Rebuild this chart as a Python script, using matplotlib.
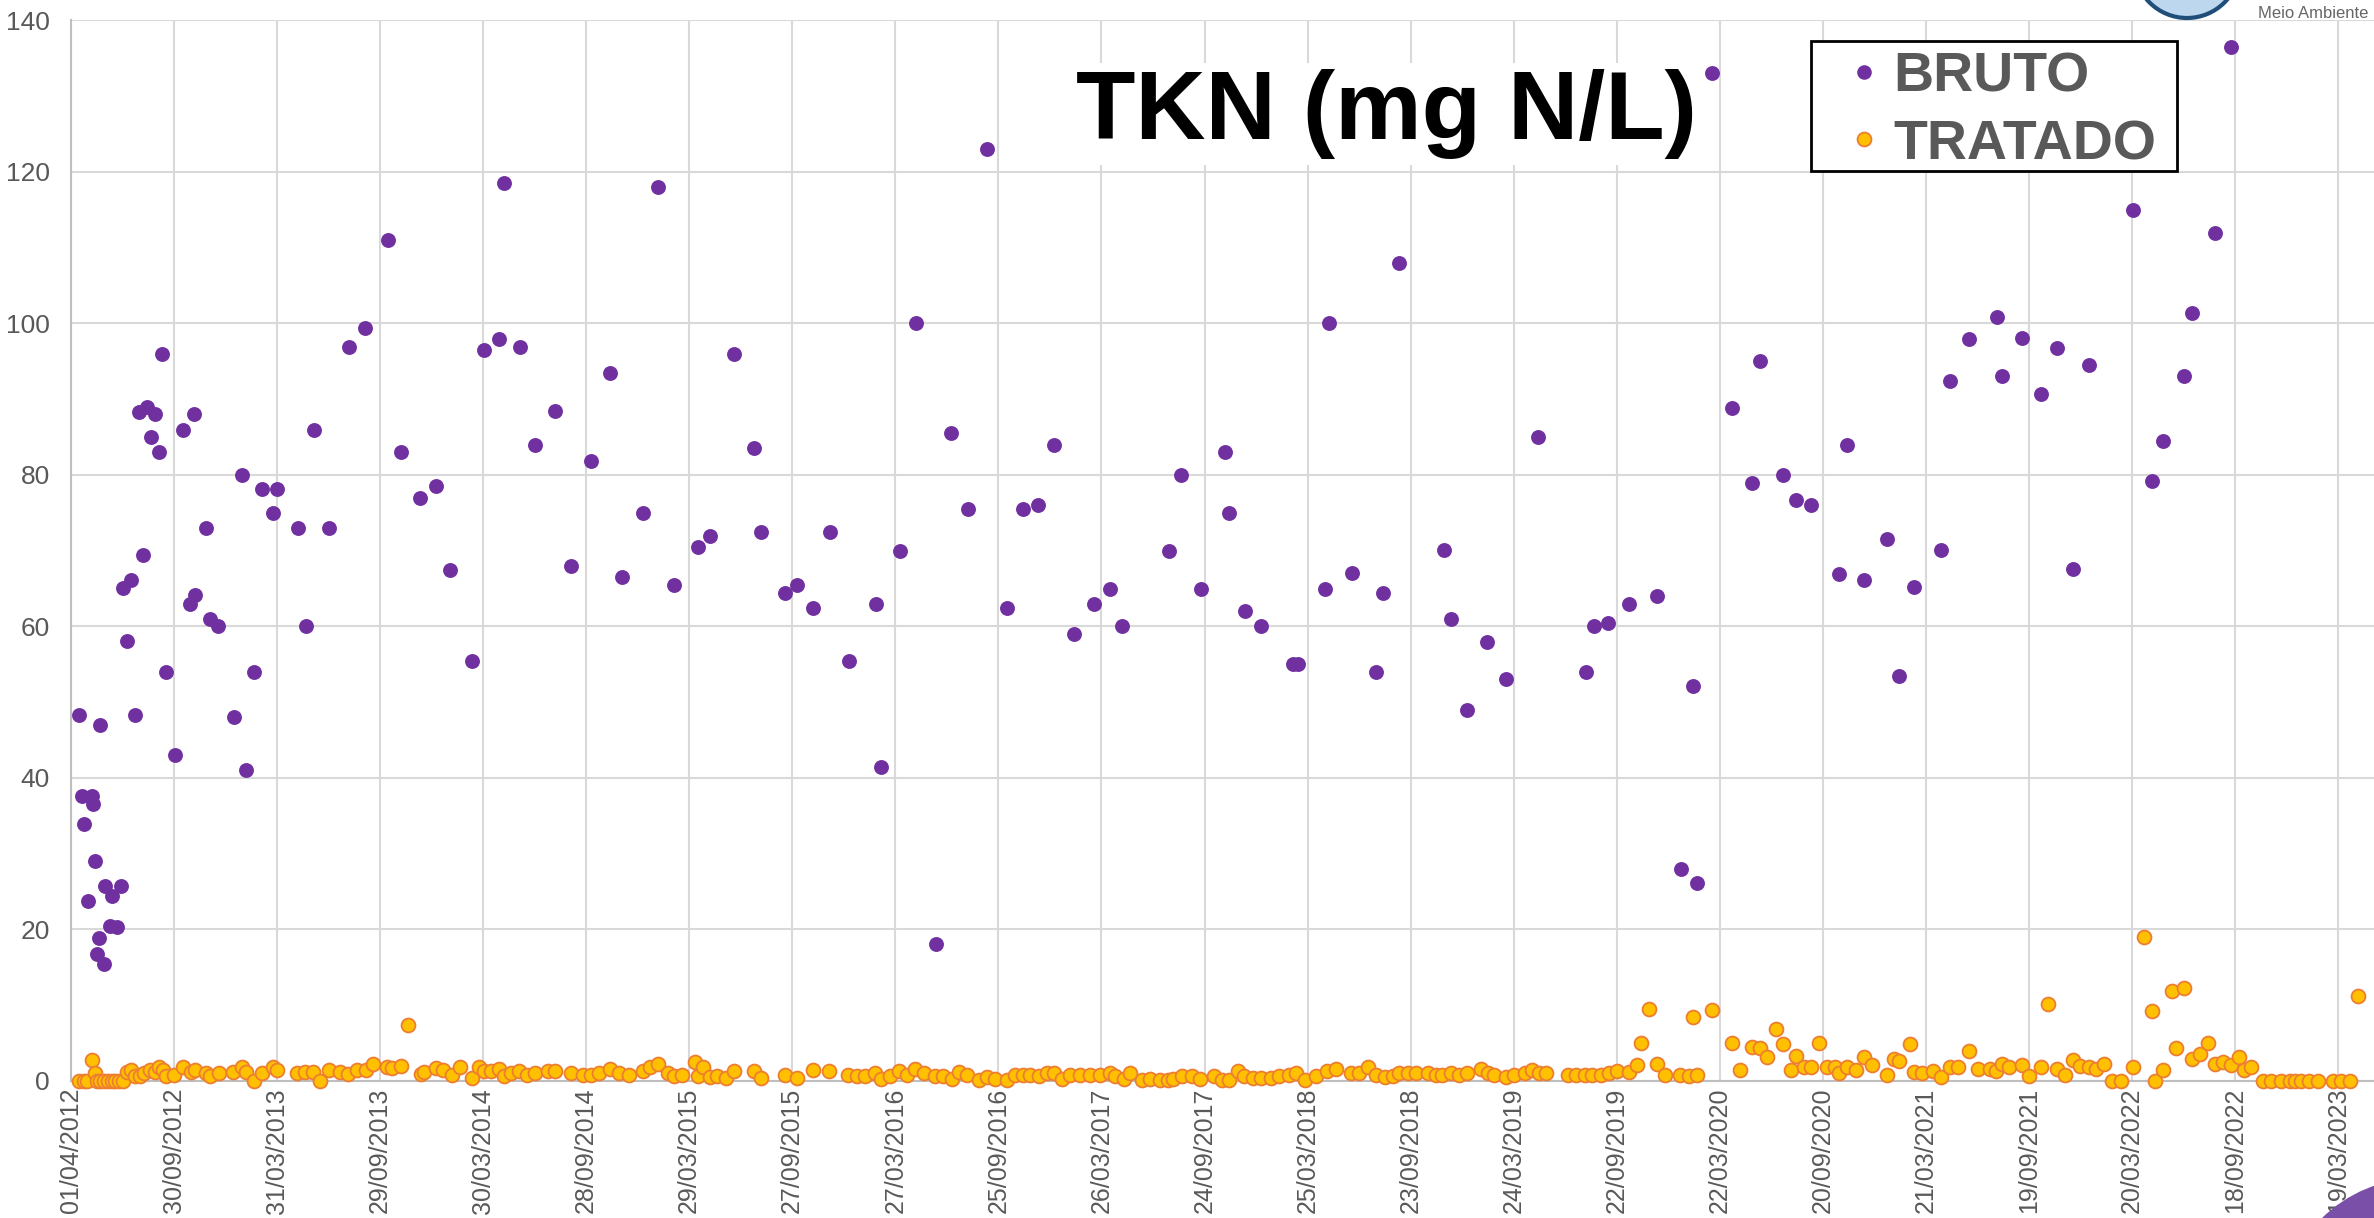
import pandas as pd
import matplotlib
matplotlib.use('Agg')
import matplotlib.pyplot as plt
from matplotlib import font_manager
from matplotlib.patches import Ellipse, Rectangle
from matplotlib.lines import Line2D

# TKN afluente (bruto) e efluente (tratado), mg N/L
bruto_datas = [
    '2012-04-16', '2012-04-20', '2012-04-25', '2012-05-02', '2012-05-09', '2012-05-11', '2012-05-14',
    '2012-05-17', '2012-05-21', '2012-05-23', '2012-05-29', '2012-06-01', '2012-06-09', '2012-06-13',
    '2012-06-21', '2012-06-28', '2012-07-03', '2012-07-09', '2012-07-16', '2012-07-24', '2012-07-31',
    '2012-08-07', '2012-08-13', '2012-08-21', '2012-08-28', '2012-09-04', '2012-09-10', '2012-09-17',
    '2012-10-02', '2012-10-16', '2012-10-29', '2012-11-05', '2012-11-07', '2012-11-26', '2012-12-03',
    '2012-12-17', '2013-01-14', '2013-01-28', '2013-02-04', '2013-02-19', '2013-03-04', '2013-03-25',
    '2013-04-01', '2013-05-07', '2013-05-21', '2013-06-04', '2013-07-01', '2013-08-05', '2013-09-03',
    '2013-10-14', '2013-11-05', '2013-12-09', '2014-01-06', '2014-01-31', '2014-03-10', '2014-03-31',
    '2014-04-28', '2014-05-06', '2014-06-03', '2014-06-30', '2014-08-04', '2014-09-01', '2014-10-06',
    '2014-11-10', '2014-12-01', '2015-01-06', '2015-02-02', '2015-03-02', '2015-04-13', '2015-05-04',
    '2015-06-16', '2015-07-21', '2015-08-03', '2015-09-14', '2015-10-05', '2015-11-02', '2015-12-02',
    '2016-01-05', '2016-02-22', '2016-03-01', '2016-04-04', '2016-05-03', '2016-06-07', '2016-07-04',
    '2016-08-02', '2016-09-05', '2016-10-10', '2016-11-07', '2016-12-04', '2017-01-02', '2017-02-06',
    '2017-03-13', '2017-04-10', '2017-05-02', '2017-07-24', '2017-08-14', '2017-09-18', '2017-10-30',
    '2017-11-06', '2017-12-05', '2018-01-02', '2018-02-27', '2018-03-08', '2018-04-24', '2018-05-01',
    '2018-06-11', '2018-07-23', '2018-08-06', '2018-09-03', '2018-11-20', '2018-12-03', '2018-12-31',
    '2019-02-04', '2019-03-11', '2019-05-05', '2019-07-29', '2019-08-12', '2019-09-06', '2019-10-13',
    '2019-12-02', '2020-01-13', '2020-02-03', '2020-02-10', '2020-03-08', '2020-04-13', '2020-05-18',
    '2020-05-31', '2020-07-12', '2020-08-03', '2020-08-30', '2020-10-19', '2020-11-02', '2020-12-01',
    '2021-01-11', '2021-02-01', '2021-02-28', '2021-04-17', '2021-05-02', '2021-06-05', '2021-07-25',
    '2021-08-02', '2021-09-06', '2021-10-10', '2021-11-08', '2021-12-05', '2022-01-02', '2022-03-21',
    '2022-04-24', '2022-05-14', '2022-06-19', '2022-07-03', '2022-08-14', '2022-09-10',
]
bruto_valores = [
    48.3, 37.6, 33.9, 23.7, 37.6, 36.6, 29.1,
    16.8, 18.9, 47.0, 15.4, 25.8, 20.4, 24.4,
    20.3, 25.8, 65.1, 58.1, 66.2, 48.3, 88.3,
    69.4, 89.0, 85.0, 88.0, 83.0, 96.0, 54.0,
    43.0, 86.0, 63.0, 88.0, 64.1, 73.0, 61.0,
    60.0, 48.1, 80.0, 41.0, 54.0, 78.1, 75.0,
    78.1, 73.0, 60.0, 86.0, 73.0, 96.9, 99.4,
    111.0, 83.0, 77.0, 78.5, 67.5, 55.5, 96.5,
    98.0, 118.6, 96.9, 84.0, 88.5, 68.0, 81.9,
    93.5, 66.5, 75.0, 118.0, 65.5, 70.5, 71.9,
    96.0, 83.5, 72.5, 64.4, 65.5, 62.5, 72.5,
    55.5, 63.0, 41.5, 70.0, 100.0, 18.1, 85.5,
    75.5, 123.0, 62.5, 75.5, 76.0, 84.0, 59.0,
    63.0, 65.0, 60.0, 70.0, 80.0, 65.0, 83.0,
    75.0, 62.0, 60.0, 55.0, 55.0, 65.0, 100.0,
    67.0, 54.0, 64.4, 108.0, 70.1, 61.0, 49.0,
    58.0, 53.0, 85.0, 54.0, 60.0, 60.5, 63.0,
    64.0, 28.0, 52.2, 26.2, 133.1, 88.8, 79.0,
    95.0, 80.0, 76.7, 76.0, 66.9, 84.0, 66.2,
    71.5, 53.5, 65.2, 70.1, 92.4, 98.0, 100.9,
    93.1, 98.1, 90.7, 96.7, 67.6, 94.5, 115.0,
    79.2, 84.5, 93.1, 101.4, 112.0, 136.5,
]

tratado_datas = [
    '2012-04-16', '2012-04-25', '2012-04-30', '2012-05-08', '2012-05-14', '2012-05-17', '2012-05-23',
    '2012-05-30', '2012-06-06', '2012-06-13', '2012-06-19', '2012-06-25', '2012-07-02', '2012-07-09',
    '2012-07-16', '2012-07-24', '2012-08-01', '2012-08-09', '2012-08-19', '2012-08-28', '2012-09-04',
    '2012-09-11', '2012-09-17', '2012-09-30', '2012-10-16', '2012-10-30', '2012-11-06', '2012-11-26',
    '2012-12-03', '2012-12-18', '2013-01-13', '2013-01-28', '2013-02-04', '2013-02-19', '2013-03-04',
    '2013-03-25', '2013-04-01', '2013-05-05', '2013-05-20', '2013-06-03', '2013-06-16', '2013-07-01',
    '2013-07-20', '2013-08-04', '2013-08-20', '2013-09-04', '2013-09-17', '2013-10-11', '2013-10-21',
    '2013-11-05', '2013-11-18', '2013-12-10', '2013-12-16', '2014-01-06', '2014-01-19', '2014-02-03',
    '2014-02-17', '2014-03-10', '2014-03-23', '2014-03-31', '2014-04-13', '2014-04-28', '2014-05-06',
    '2014-05-18', '2014-06-02', '2014-06-16', '2014-06-30', '2014-07-22', '2014-08-04', '2014-09-01',
    '2014-09-22', '2014-10-06', '2014-10-21', '2014-11-10', '2014-11-25', '2014-12-13', '2015-01-06',
    '2015-01-19', '2015-02-02', '2015-02-19', '2015-03-02', '2015-03-17', '2015-04-08', '2015-04-13',
    '2015-04-22', '2015-05-05', '2015-05-18', '2015-06-02', '2015-06-16', '2015-07-21', '2015-08-03',
    '2015-09-14', '2015-10-05', '2015-11-02', '2015-12-01', '2016-01-04', '2016-01-19', '2016-02-03',
    '2016-02-20', '2016-03-01', '2016-03-18', '2016-04-02', '2016-04-16', '2016-05-01', '2016-05-16',
    '2016-06-05', '2016-06-20', '2016-07-05', '2016-07-17', '2016-07-31', '2016-08-21', '2016-09-05',
    '2016-09-19', '2016-10-10', '2016-10-25', '2016-11-07', '2016-11-20', '2016-12-05', '2016-12-20',
    '2017-01-02', '2017-01-15', '2017-01-30', '2017-02-16', '2017-03-06', '2017-03-24', '2017-04-10',
    '2017-04-19', '2017-05-04', '2017-05-16', '2017-06-05', '2017-06-20', '2017-07-07', '2017-07-22',
    '2017-07-31', '2017-08-15', '2017-09-01', '2017-09-16', '2017-10-10', '2017-10-24', '2017-11-07',
    '2017-11-22', '2017-12-03', '2017-12-18', '2018-01-02', '2018-01-19', '2018-02-03', '2018-02-21',
    '2018-03-05', '2018-03-20', '2018-04-09', '2018-04-29', '2018-05-14', '2018-06-10', '2018-06-24',
    '2018-07-09', '2018-07-24', '2018-08-08', '2018-08-22', '2018-09-03', '2018-09-18', '2018-10-02',
    '2018-10-23', '2018-11-07', '2018-11-18', '2018-12-03', '2018-12-18', '2018-12-31', '2019-01-25',
    '2019-02-06', '2019-02-18', '2019-03-10', '2019-03-25', '2019-04-12', '2019-04-26', '2019-05-08',
    '2019-05-20', '2019-06-27', '2019-07-12', '2019-07-27', '2019-08-10', '2019-08-25', '2019-09-08',
    '2019-09-22', '2019-10-13', '2019-10-28', '2019-11-04', '2019-11-17', '2019-12-02', '2019-12-16',
    '2020-01-12', '2020-01-27', '2020-02-03', '2020-02-10', '2020-03-08', '2020-04-13', '2020-04-26',
    '2020-05-18', '2020-05-31', '2020-06-14', '2020-06-29', '2020-07-12', '2020-07-25', '2020-08-03',
    '2020-08-17', '2020-08-30', '2020-09-13', '2020-09-27', '2020-10-12', '2020-10-19', '2020-11-02',
    '2020-11-17', '2020-12-01', '2020-12-15', '2021-01-11', '2021-01-23', '2021-02-01', '2021-02-21',
    '2021-02-28', '2021-03-14', '2021-04-03', '2021-04-17', '2021-05-02', '2021-05-16', '2021-06-05',
    '2021-06-20', '2021-07-12', '2021-07-23', '2021-08-02', '2021-08-15', '2021-09-06', '2021-09-19',
    '2021-10-10', '2021-10-23', '2021-11-08', '2021-11-21', '2021-12-05', '2021-12-17', '2022-01-02',
    '2022-01-16', '2022-01-30', '2022-02-12', '2022-03-01', '2022-03-21', '2022-04-09', '2022-04-24',
    '2022-04-30', '2022-05-14', '2022-05-29', '2022-06-06', '2022-06-19', '2022-07-03', '2022-07-18',
    '2022-08-01', '2022-08-14', '2022-08-27', '2022-09-10', '2022-09-24', '2022-10-04', '2022-10-16',
    '2022-11-06', '2022-11-21', '2022-12-08', '2022-12-23', '2023-01-01', '2023-01-12', '2023-01-27',
    '2023-02-11', '2023-03-09', '2023-03-24', '2023-04-08', '2023-04-23',
]
tratado_valores = [
    0.0, 0.0, 0.0, 2.8, 1.0, 0.0, 0.0,
    0.0, 0.0, 0.0, 0.0, 0.0, 0.0, 1.2,
    1.4, 0.6, 0.7, 1.0, 1.5, 1.2, 1.9,
    1.4, 0.7, 0.8, 1.8, 1.2, 1.4, 1.1,
    0.6, 1.0, 1.2, 1.8, 1.2, 0.0, 1.0,
    1.9, 1.4, 1.1, 1.2, 1.2, 0.0, 1.5,
    1.2, 0.9, 1.4, 1.4, 2.3, 1.9, 1.7,
    2.0, 7.4, 0.9, 1.2, 1.7, 1.4, 0.8,
    1.8, 0.4, 1.8, 1.3, 1.3, 1.6, 0.6,
    1.0, 1.3, 0.8, 1.0, 1.3, 1.3, 1.0,
    0.8, 0.8, 1.0, 1.6, 1.0, 0.8, 1.3,
    1.8, 2.3, 1.0, 0.6, 0.8, 2.5, 0.6,
    1.8, 0.5, 0.7, 0.4, 1.3, 1.3, 0.4,
    0.8, 0.4, 1.5, 1.3, 0.8, 0.6, 0.6,
    1.0, 0.3, 0.6, 1.3, 0.8, 1.6, 1.0,
    0.6, 0.6, 0.3, 1.2, 0.8, 0.1, 0.5,
    0.3, 0.1, 0.8, 0.8, 0.8, 0.6, 1.0,
    1.0, 0.3, 0.8, 0.8, 0.8, 0.8, 1.0,
    0.6, 0.3, 1.0, 0.1, 0.3, 0.1, 0.1,
    0.3, 0.6, 0.6, 0.3, 0.6, 0.1, 0.1,
    1.3, 0.6, 0.4, 0.4, 0.4, 0.6, 0.8,
    1.0, 0.1, 0.6, 1.3, 1.6, 1.0, 1.0,
    1.8, 0.8, 0.5, 0.6, 1.0, 1.0, 1.0,
    1.0, 0.8, 0.8, 1.0, 0.8, 1.0, 1.6,
    1.0, 0.8, 0.5, 0.8, 1.0, 1.5, 1.0,
    1.0, 0.8, 0.8, 0.8, 0.8, 0.8, 1.0,
    1.3, 1.2, 2.1, 5.0, 9.5, 2.2, 0.8,
    0.8, 0.6, 8.5, 0.8, 9.4, 5.0, 1.5,
    4.5, 4.4, 3.1, 6.9, 4.9, 1.5, 3.3,
    1.9, 1.9, 5.0, 1.9, 1.9, 1.0, 1.8,
    1.5, 3.1, 2.1, 0.8, 2.9, 2.7, 4.9,
    1.2, 1.0, 1.3, 0.5, 1.8, 1.8, 4.0,
    1.6, 1.6, 1.3, 2.2, 1.8, 2.1, 0.7,
    1.9, 10.1, 1.6, 0.8, 2.8, 2.0, 1.9,
    1.6, 2.3, 0.0, 0.0, 1.9, 19.0, 9.2,
    0.0, 1.5, 11.9, 4.4, 12.3, 2.9, 3.5,
    5.0, 2.2, 2.5, 2.1, 3.1, 1.5, 1.8,
    0.0, 0.0, 0.0, 0.0, 0.0, 0.0, 0.0,
    0.0, 0.0, 0.0, 0.0, 11.2,
]

inicio = pd.Timestamp('2012-04-01')
fim = pd.Timestamp('2023-05-21')
marcas = pd.date_range(inicio, periods=23, freq='182D')

plt.rcParams['font.family'] = ['Liberation Sans', 'DejaVu Sans']

# fonte estreita para os valores do eixo y, se existir
try:
    font_manager.findfont('Liberation Sans Narrow', fallback_to_default=False)
    fonte_y, tam_y = 'Liberation Sans Narrow', 21
except ValueError:
    fonte_y, tam_y = 'Liberation Sans', 19

cinza = '#595959'
roxo = '#7030A0'
amarelo, laranja = '#FFC000', '#ED7D31'

W, H = 2374, 1218
fig = plt.figure(figsize=(W / 100, H / 100), dpi=100)
ax = fig.add_axes([0.0298, 0.1125, 0.9702, 0.8707])

ax.scatter(pd.to_datetime(bruto_datas), bruto_valores, s=115, color=roxo,
           linewidths=0, label='BRUTO', zorder=3, clip_on=False)
ax.scatter(pd.to_datetime(tratado_datas), tratado_valores, s=100, color=amarelo,
           edgecolors=laranja, linewidths=1.3, label='TRATADO', zorder=4, clip_on=False)

ax.set_xlim(inicio, fim)
ax.set_ylim(0, 140)
ax.set_yticks(range(0, 141, 20))
ax.set_xticks(marcas)
ax.set_xticklabels([d.strftime('%d/%m/%Y') for d in marcas], rotation=90,
                   fontsize=18, color=cinza, va='top', ha='center')
ax.tick_params(axis='x', length=0, pad=5)
ax.tick_params(axis='y', length=0, pad=15, labelsize=tam_y, labelcolor=cinza)
for lbl in ax.get_yticklabels():
    lbl.set_fontfamily(fonte_y)

ax.grid(True, color='#D9D9D9', linewidth=1.5)
ax.set_axisbelow(True)
for lado in ['top', 'right']:
    ax.spines[lado].set_visible(False)
for lado in ['left', 'bottom']:
    ax.spines[lado].set_color('#BFBFBF')
    ax.spines[lado].set_linewidth(1.5)

fig.text(0.584, 0.886, 'TKN (mg N/L)', fontsize=70, fontweight='bold', ha='center',
         va='baseline', color='black', zorder=10,
         bbox=dict(facecolor='white', edgecolor='none', pad=4))

# legenda desenhada a mao (caixa, marcadores e textos)
fig.add_artist(Rectangle((1811 / W, 1 - 171 / H), 366 / W, 130 / H, transform=fig.transFigure,
                         facecolor='white', edgecolor='black', linewidth=2, zorder=10))
fig.add_artist(Line2D([1864 / W], [1 - 72 / H], transform=fig.transFigure, marker='o',
                      markersize=10.5, markerfacecolor=roxo, markeredgewidth=0,
                      linestyle='none', zorder=11))
fig.add_artist(Line2D([1864 / W], [1 - 139 / H], transform=fig.transFigure, marker='o',
                      markersize=10, markerfacecolor=amarelo, markeredgecolor=laranja,
                      markeredgewidth=1.3, linestyle='none', zorder=11))
for nome, base in [('BRUTO', 91), ('TRATADO', 159)]:
    fig.text(1893 / W, 1 - base / H, nome, fontsize=40, fontweight='bold', color=cinza,
             ha='left', va='baseline', zorder=11)

# restos do logotipo no canto superior direito e no canto inferior direito
fig.add_artist(Ellipse((2187 / W, 1 + 35 / H), 106 / W, 106 / H, transform=fig.transFigure,
                       facecolor='#BDD7EE', edgecolor='#1F4E79', linewidth=3, zorder=11))
fig.text(2258 / W, 1 - 18 / H, 'Meio Ambiente', fontsize=12, color='#666666',
         ha='left', va='baseline', zorder=11)
fig.add_artist(Ellipse((2420 / W, -100 / H), 280 / W, 280 / H, transform=fig.transFigure,
                       facecolor='#7A4FA8', edgecolor='none', zorder=11))

fig.savefig('out.png', dpi=100)
